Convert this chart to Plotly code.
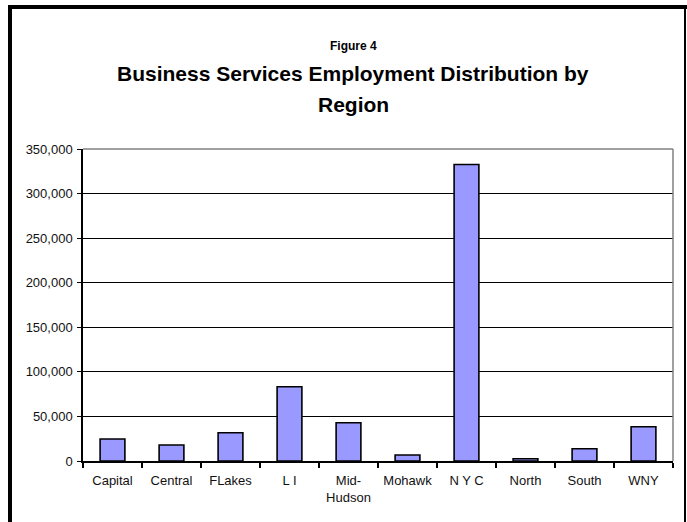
import plotly.graph_objects as go

regions = ["Capital", "Central", "FLakes", "L I", "Mid-<br>Hudson", "Mohawk", "N Y C", "North", "South", "WNY"]
employment = [24700, 17900, 31700, 83300, 42900, 6700, 332600, 2500, 13800, 38500]
y_ticks = [0, 50000, 100000, 150000, 200000, 250000, 300000, 350000]
y_tick_labels = ["0", "50,000", "100,000", "150,000", "200,000", "250,000", "300,000", "350,000"]

W, H = 687, 522
L, R, T, B = 83, 14, 149, 61
PW, PH = W - L - R, H - T - B

def px(x):
    return (x - L) / PW

def py(y):
    return (H - B - y) / PH

FONT = "Liberation Sans, Arial, sans-serif"

fig = go.Figure(go.Bar(
    x=regions, y=employment,
    marker=dict(color="#9999ff", line=dict(color="#000000", width=1.6)),
    width=0.42,
))

fig.update_layout(
    width=W, height=H,
    margin=dict(l=L, r=R, t=T, b=B),
    paper_bgcolor="white", plot_bgcolor="white",
    showlegend=False,
    font=dict(family=FONT, size=13, color="#111111"),
    xaxis=dict(
        showgrid=False, showline=True, linecolor="black", linewidth=1.5,
        ticks="outside", tickson="boundaries", ticklen=5, tickcolor="black", tickwidth=1.5,
        tickfont=dict(family=FONT, size=13, color="#111111"),
        ticklabelstandoff=7,
        fixedrange=True,
    ),
    yaxis=dict(
        range=[0, 350000], tickvals=y_ticks, ticktext=y_tick_labels,
        showgrid=True, gridcolor="black", gridwidth=1.2,
        showline=True, linecolor="black", linewidth=1.5,
        ticks="outside", ticklen=4, tickcolor="black", tickwidth=1.2,
        tickfont=dict(family=FONT, size=13, color="#111111"),
        ticklabelstandoff=2,
        zeroline=False, fixedrange=True,
    ),
    shapes=[
        # gray plot border top & right
        dict(type="line", xref="paper", yref="paper", x0=0, x1=1, y0=1, y1=1,
             line=dict(color="#808080", width=1.5)),
        dict(type="line", xref="paper", yref="paper", x0=1, x1=1, y0=0, y1=1,
             line=dict(color="#808080", width=1.5)),
        # outer frame
        dict(type="line", xref="paper", yref="paper", x0=px(10), x1=px(10), y0=py(5), y1=py(530),
             line=dict(color="black", width=4)),
        dict(type="line", xref="paper", yref="paper", x0=px(8), x1=px(690), y0=py(7), y1=py(7),
             line=dict(color="black", width=4)),
        dict(type="line", xref="paper", yref="paper", x0=px(685), x1=px(685), y0=py(7), y1=py(530),
             line=dict(color="black", width=2)),
    ],
    annotations=[
        dict(text="<b>Figure 4</b>", xref="paper", yref="paper", x=px(353), y=py(46),
             xanchor="center", yanchor="middle", showarrow=False,
             font=dict(family=FONT, size=12, color="black")),
        dict(text="<b>Business Services Employment Distribution by</b>", xref="paper", yref="paper",
             x=px(353), y=py(74), xanchor="center", yanchor="middle", showarrow=False,
             font=dict(family=FONT, size=21, color="black")),
        dict(text="<b>Region</b>", xref="paper", yref="paper",
             x=px(353), y=py(104), xanchor="center", yanchor="middle", showarrow=False,
             font=dict(family=FONT, size=21, color="black")),
    ],
)

fig.write_html("out.html", config={"displayModeBar": False},
               post_script="document.body.style.margin='0';document.body.style.overflow='hidden';")
